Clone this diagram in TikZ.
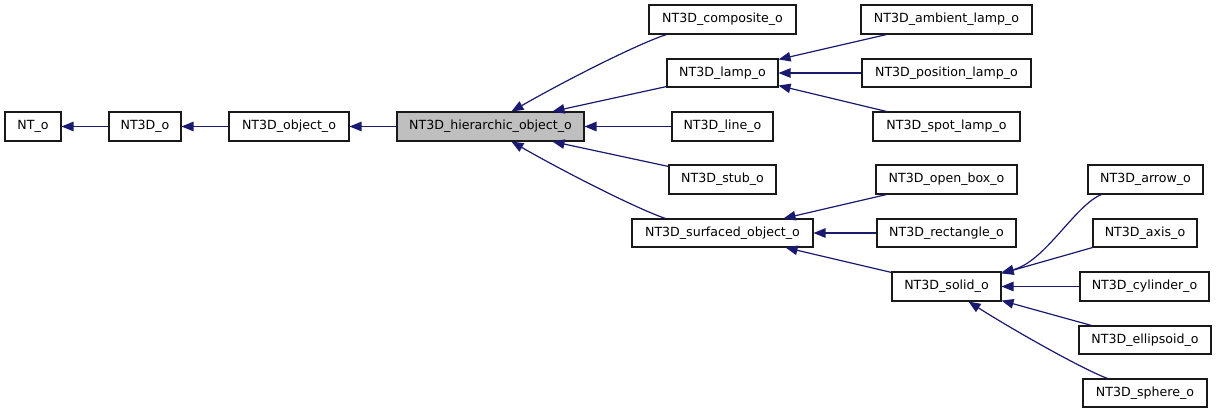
\documentclass[tikz,border=0pt]{standalone}
\usepackage{fontspec}
\setmainfont{DejaVu Sans}
\usetikzlibrary{arrows.meta}
\definecolor{edgeblue}{HTML}{191970}
\definecolor{hiergray}{HTML}{BFBFBF}
\begin{document}
\begin{tikzpicture}[x=1pt,y=-1pt,
  box/.style={draw=black!90, line width=1.1pt, fill=white, inner sep=0pt,
    font=\fontsize{12.6}{14}\selectfont, text=black},
  edge/.style={draw=edgeblue, line width=1.2pt,
    -{Triangle[length=12pt,width=9.5pt]}}]
\useasboundingbox (0,0) rectangle (1216,413);
\fill[white] (0,0) rectangle (1216,413);
% nodes
\node[box, minimum width=56pt, minimum height=29pt] (nto) at (33,126.5) {NT\_o};
\node[box, minimum width=72pt, minimum height=29pt] (nt3d) at (145,126.5) {NT3D\_o};
\node[box, minimum width=120pt, minimum height=29pt] (object) at (289,126.5) {NT3D\_object\_o};
\node[box, fill=hiergray, minimum width=187pt, minimum height=29pt] (hier) at (490.5,126.5) {NT3D\_hierarchic\_object\_o};
\node[box, minimum width=147pt, minimum height=29pt] (composite) at (722.5,19.5) {NT3D\_composite\_o};
\node[box, minimum width=111pt, minimum height=28pt] (lamp) at (722.5,73) {NT3D\_lamp\_o};
\node[box, minimum width=101pt, minimum height=29pt] (line) at (722.5,126.5) {NT3D\_line\_o};
\node[box, minimum width=107pt, minimum height=29pt] (stub) at (722.5,179.5) {NT3D\_stub\_o};
\node[box, minimum width=181pt, minimum height=28pt] (surfaced) at (722.5,233) {NT3D\_surfaced\_object\_o};
\node[box, minimum width=171pt, minimum height=29pt] (ambient) at (946.5,19.5) {NT3D\_ambient\_lamp\_o};
\node[box, minimum width=169pt, minimum height=28pt] (position) at (946.5,73) {NT3D\_position\_lamp\_o};
\node[box, minimum width=147pt, minimum height=29pt] (spot) at (946.5,126.5) {NT3D\_spot\_lamp\_o};
\node[box, minimum width=141pt, minimum height=29pt] (openbox) at (946.5,179.5) {NT3D\_open\_box\_o};
\node[box, minimum width=139pt, minimum height=28pt] (rectangle) at (946.5,233) {NT3D\_rectangle\_o};
\node[box, minimum width=109pt, minimum height=29pt] (solid) at (946.5,286.5) {NT3D\_solid\_o};
\node[box, minimum width=115pt, minimum height=29pt] (arrow) at (1145.5,179.5) {NT3D\_arrow\_o};
\node[box, minimum width=104pt, minimum height=28pt] (axis) at (1145,233) {NT3D\_axis\_o};
\node[box, minimum width=129pt, minimum height=29pt] (cylinder) at (1144.5,286.5) {NT3D\_cylinder\_o};
\node[box, minimum width=132pt, minimum height=28pt] (ellipsoid) at (1145,340) {NT3D\_ellipsoid\_o};
\node[box, minimum width=124pt, minimum height=28pt] (sphere) at (1145,393) {NT3D\_sphere\_o};
% edges (arrowhead at the parent)
\draw[edge] (nt3d.west) -- (nto.east);
\draw[edge] (object.west) -- (nt3d.east);
\draw[edge] (hier.west) -- (object.east);
\draw[edge] ([xshift=18pt]composite.south west) .. controls (640,43) and (570,78) .. ([xshift=115pt]hier.north west);
\draw[edge] ([yshift=1pt]lamp.south west) -- ([xshift=-32pt]hier.north east);
\draw[edge] (line.west) -- (hier.east);
\draw[edge] ([yshift=-2pt]stub.north west) -- ([xshift=-32pt]hier.south east);
\draw[edge] ([xshift=34pt]surfaced.north west) .. controls (640,210) and (570,175) .. ([xshift=115pt]hier.south west);
\draw[edge] ([xshift=26pt]ambient.south west) -- ([yshift=-1pt]lamp.north east);
\draw[edge] (position.west) -- (lamp.east);
\draw[edge] ([xshift=14pt]spot.north west) -- ([yshift=2pt]lamp.south east);
\draw[edge] ([xshift=11pt]openbox.south west) -- ([xshift=-30pt]surfaced.north east);
\draw[edge] (rectangle.west) -- (surfaced.east);
\draw[edge] ([yshift=-1pt]solid.north west) -- ([xshift=-28pt]surfaced.south east);
\draw[edge] ([xshift=14pt]arrow.south west) .. controls (1075,205) and (1045,262) .. ([yshift=-1pt]solid.north east);
\draw[edge] (axis.south west) -- ([yshift=-2pt]solid.north east);
\draw[edge] (cylinder.west) -- (solid.east);
\draw[edge] ([xshift=13pt]ellipsoid.north west) -- ([yshift=1pt]solid.south east);
\draw[edge] ([xshift=25pt]sphere.north west) .. controls (1080,368) and (1010,328) .. ([xshift=22pt]solid.south);
\end{tikzpicture}
\end{document}
